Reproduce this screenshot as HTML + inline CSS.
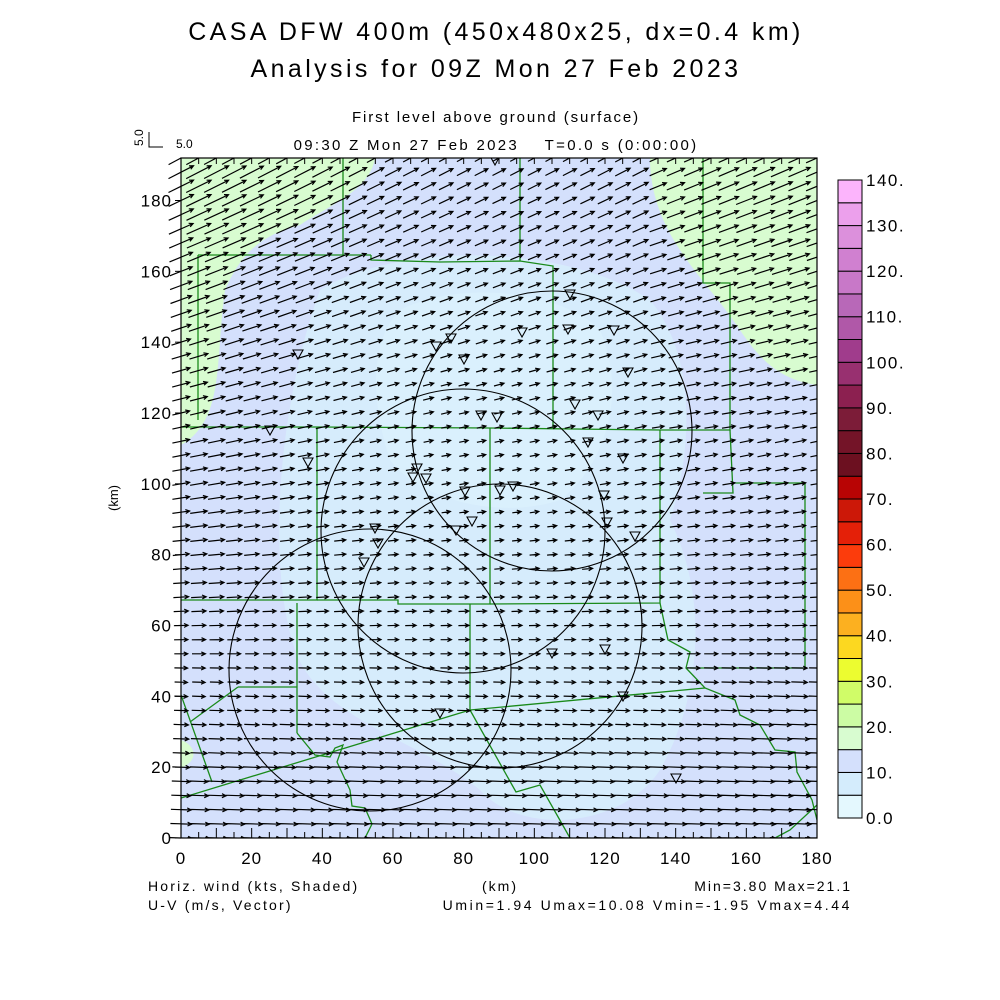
<!DOCTYPE html>
<html><head><meta charset="utf-8"><style>
html,body{margin:0;padding:0;background:#fff;}
svg{display:block;font-family:"Liberation Sans",sans-serif;}
text{white-space:pre;}
</style></head><body>
<svg id="s" width="1000" height="1000" viewBox="0 0 1000 1000" xmlns="http://www.w3.org/2000/svg" xml:space="preserve">
<rect width="1000" height="1000" fill="#fff"/>
<defs><clipPath id="cp"><rect x="181" y="158" width="636" height="680"/></clipPath></defs>
<g clip-path="url(#cp)">
<rect x="181" y="158" width="636" height="680" fill="#d4e0fc"/>
<path d="M320,290 C400,240 570,245 650,300 C700,360 690,460 670,520 C710,600 700,700 660,770 C620,830 520,835 480,790 C420,740 320,720 295,650 C265,560 280,400 320,290Z" fill="#d6ecfc"/>
<path d="M400,310 C460,280 560,290 600,330 C630,400 600,470 560,500 C500,520 420,500 390,460 C370,400 370,340 400,310Z" fill="#daf0fd"/>
<path d="M181,158 L375,158 C370,190 330,205 300,225 C260,235 240,255 225,290 C215,360 225,420 181,445Z" fill="#d8fcd0"/>
<path d="M650,158 L817,158 L817,385 C780,380 760,360 740,330 C720,300 700,280 680,250 C660,220 650,190 650,158Z" fill="#d8fcd0"/>
<path d="M181,740 C195,745 200,760 181,768Z" fill="#d8fcd0"/>
<g id="green" fill="none" stroke="#1a8a1a" stroke-width="1.3">
<polyline points="343,158 343,255"/>
<polyline points="198,255 371,255"/>
<polyline points="371,255 371,260 440,262 520,261 553,266 553,428"/>
<polyline points="520,158 520,261"/>
<polyline points="198,255 198,420"/>
<polyline points="181,427 317,427 490,428 660,430 730,430 730,283 703,283 703,158"/>
<polyline points="317,427 317,600 181,600"/>
<polyline points="317,600 398,600 398,604 490,604 490,428"/>
<polyline points="470,604 470,710"/>
<polyline points="490,604 660,603 660,430"/>
<polyline points="297,603 297,733"/>
<polyline points="730,430 733,493 703,493"/>
<polyline points="733,483 805,483 805,668 690,668"/>
<polyline points="660,603 668,640 690,652 686,668 705,688 735,700 740,715 760,725 775,750 795,752 797,772 812,800 817,820"/>
<polyline points="238,687 297,687"/>
<polyline points="238,687 190,722"/>
<polyline points="181,695 212,782"/>
<polyline points="181,798 470,710 705,688"/>
<polyline points="297,733 315,755 330,757 335,748 343,745 337,762 350,790 352,806 365,808 372,824 365,838"/>
<polyline points="470,710 516,792 540,785 570,838"/>
<polyline points="817,805 790,830 775,838"/>
</g>
<g fill="none" stroke="#000" stroke-width="1.1">
<circle cx="552" cy="431" r="140"/>
<circle cx="463" cy="531" r="142"/>
<circle cx="500" cy="626" r="142"/>
<circle cx="370" cy="670" r="141"/>
</g>
<g id="arr" stroke="#000" stroke-width="1.2" fill="none"></g>
<g id="tri" fill="none" stroke="#000" stroke-width="1.1"></g>
</g>
<g id="arrL" stroke="#000" stroke-width="1.2" fill="none"></g>
<rect x="181" y="158" width="636" height="680" fill="none" stroke="#000" stroke-width="1.2"/>
<g id="ticks" stroke="#000" stroke-width="1"></g>
<g id="cb"></g>
<g font-size="17" fill="#000" id="lbl" letter-spacing="1"></g>
<text x="496" y="40" font-size="25" text-anchor="middle" letter-spacing="3.4">CASA DFW 400m (450x480x25, dx=0.4 km)</text>
<text x="496" y="77" font-size="25" text-anchor="middle" letter-spacing="3.4">Analysis for 09Z Mon 27 Feb 2023</text>
<text x="496" y="122" font-size="15" text-anchor="middle" letter-spacing="1.9">First level above ground (surface)</text>
<text x="496" y="150" font-size="15" text-anchor="middle" letter-spacing="2.3">09:30 Z Mon 27 Feb 2023    T=0.0 s (0:00:00)</text>
<text x="176" y="148" font-size="12">5.0</text>
<path d="M149,132 V147 H163" stroke="#000" fill="none"/>
<text x="143" y="146" font-size="12" transform="rotate(-90 143 146)">5.0</text>
<text x="118" y="498" font-size="13" text-anchor="middle" transform="rotate(-90 118 498)">(km)</text>
<text x="148" y="891" font-size="14" letter-spacing="2.2">Horiz. wind (kts, Shaded)</text>
<text x="148" y="910" font-size="14" letter-spacing="2.2">U-V (m/s, Vector)</text>
<text x="500" y="891" font-size="14" text-anchor="middle" letter-spacing="2">(km)</text>
<text x="852" y="891" font-size="14" text-anchor="end" letter-spacing="2">Min=3.80 Max=21.1</text>
<text x="852" y="910" font-size="14" text-anchor="end" letter-spacing="2.6">Umin=1.94 Umax=10.08 Vmin=-1.95 Vmax=4.44</text>
</svg>
<script>
(function(){
var NS="http://www.w3.org/2000/svg";
function el(p,t,a,txt){var e=document.createElementNS(NS,t);for(var k in a)e.setAttribute(k,a[k]);if(txt!=null)e.textContent=txt;document.getElementById(p).appendChild(e);return e;}
var x0=181,y0=838,kx=636/180,ky=680/192;
var d1="",d2="";
function g(x,y,cx,cy,r){var dx=x-cx,dy=y-cy;return Math.exp(-(dx*dx+dy*dy)/(r*r));}
for(var j=0;j<=48;j++){for(var i=0;i<=36;i++){
 var x=x0+i*5*kx,y=y0-j*4*ky;
 var t=(838-y)/680;
 var ang=t<0.22?-2:-2+(t-0.22)/0.78*30;
 if(x>650&&t>0.6)ang-=4;
 var s=4.2+5.5*g(x,y,181,158,210)+4*g(x,y,817,158,200)+3.5*Math.max(0,(y-690)/150)+1.5*g(x,y,181,520,120)-1.3*g(x,y,480,480,160)+1.5*g(x,y,817,720,120);
 var L=s*2.9;
 var a=ang*Math.PI/180,c=Math.cos(a),sn=Math.sin(a);
 var tx=x-c*L/2,ty=y+sn*L/2,hx=x+c*L/2,hy=y-sn*L/2;
 var h=4.5,b1=a+Math.PI-0.45,b2=a+Math.PI+0.45;
 var seg="M"+tx.toFixed(1)+","+ty.toFixed(1)+"L"+hx.toFixed(1)+","+hy.toFixed(1)+"M"+(hx+h*Math.cos(b1)).toFixed(1)+","+(hy-h*Math.sin(b1)).toFixed(1)+"L"+hx.toFixed(1)+","+hy.toFixed(1)+"L"+(hx+h*Math.cos(b2)).toFixed(1)+","+(hy-h*Math.sin(b2)).toFixed(1);
 d1+=seg;
 if(i==0&&tx<181){d2+="M"+tx.toFixed(1)+","+ty.toFixed(1)+"L181,"+(y+sn*(181-x)/c*-1).toFixed(1);}
}}
el("arr","path",{d:d1});
el("arrL","path",{d:d2});
var tr=[[495,161],[570,295],[522,333],[614,331],[568,330],[451,339],[436,347],[298,355],[464,360],[628,373],[575,405],[481,416],[497,418],[598,416],[270,431],[588,443],[623,459],[308,463],[417,469],[413,478],[426,479],[465,492],[500,491],[513,487],[604,496],[607,523],[472,522],[456,531],[635,537],[375,529],[378,544],[364,563],[552,654],[605,650],[623,697],[440,714],[676,779]];
tr.forEach(function(p){var x=p[0],y=p[1];el("tri","path",{d:"M"+(x-5)+","+(y-5)+"H"+(x+5)+"L"+x+","+(y+4)+"Z"});});
for(var i=0;i<=36;i++){var x=x0+i*5*kx;el("ticks","line",{x1:x,y1:838,x2:x,y2:i%2?832:828});el("ticks","line",{x1:x,y1:158,x2:x,y2:164});}
for(var v=0;v<=180;v+=20){var x=x0+v*kx;el("lbl","text",{x:x,y:864,"text-anchor":"middle"},String(v));}
for(var v=0;v<=180;v+=20){var y=y0-v*ky;el("ticks","line",{x1:181,y1:y,x2:175,y2:y});el("lbl","text",{x:172,y:y+6,"text-anchor":"end"},String(v));}
var cols=["#e4f8fe","#d4ecfc","#d4e0fc","#d8fcd0","#ccfca4","#d0fc68","#ecfc30","#fcd820","#fcb020","#fc9018","#fc7014","#fc3c0c","#e42008","#cc1808","#b80404","#6c1020","#741428","#7c1c38","#8c2050","#983070","#a03c8c","#b058a8","#b868b8","#c878c8","#d080d0","#dc90dc","#eca0ec","#fcb4fc"];
var top=180,bot=818,n=28,hh=(bot-top)/n;
for(var k=0;k<n;k++){var y=bot-(k+1)*hh;el("cb","rect",{x:838,y:y,width:24,height:hh,fill:cols[k],stroke:"#000","stroke-width":1});}
var labs=["0.0","10.","20.","30.","40.","50.","60.","70.","80.","90.","100.","110.","120.","130.","140."];
for(var k=0;k<labs.length;k++){var y=bot-k*2*hh;el("lbl","text",{x:866,y:y+6,"font-size":"17","letter-spacing":"1.5"},labs[k]);}
})();
</script>
</body></html>
